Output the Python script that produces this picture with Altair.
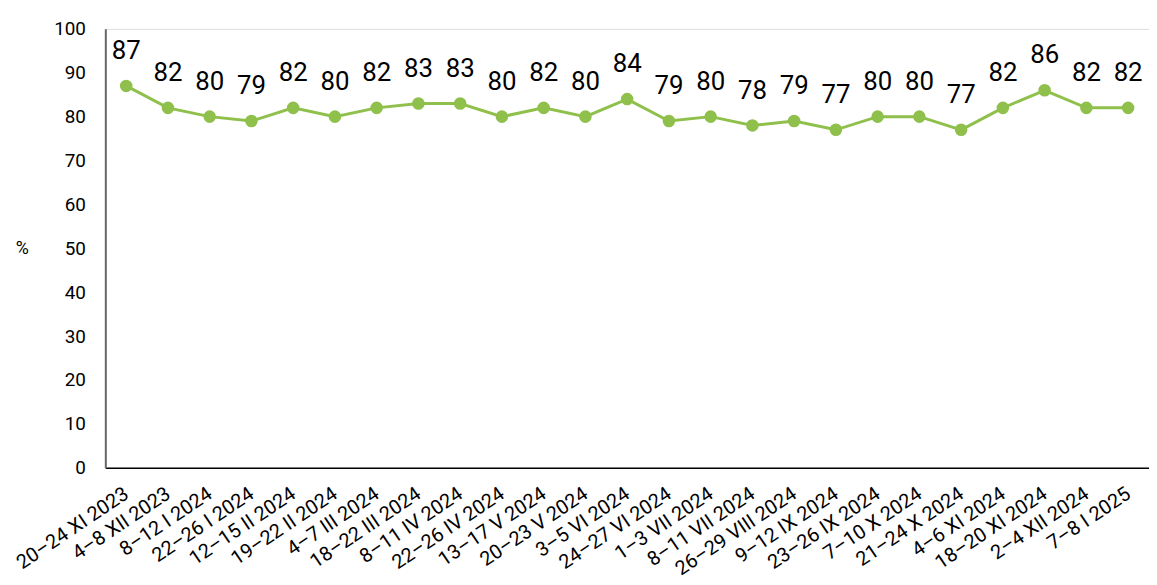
import altair as alt
import pandas as pd

labels = ["20–24 XI 2023", "4–8 XII 2023", "8–12 I 2024", "22–26 I 2024", "12–15 II 2024",
          "19–22 II 2024", "4–7 III 2024", "18–22 III 2024", "8–11 IV 2024", "22–26 IV 2024",
          "13–17 V 2024", "20–23 V 2024", "3–5 VI 2024", "24–27 VI 2024", "1–3 VII 2024",
          "8–11 VII 2024", "26–29 VIII 2024", "9–12 IX 2024", "23–26 IX 2024", "7–10 X 2024",
          "21–24 X 2024", "4–6 XI 2024", "18–20 XI 2024", "2–4 XII 2024", "7–8 I 2025"]
values = [87, 82, 80, 79, 82, 80, 82, 83, 83, 80, 82, 80, 84, 79, 80, 78, 79, 77, 80, 80, 77, 82, 86, 82, 82]

df = pd.DataFrame({"label": labels, "value": values})

GREEN = "#8fc04c"
FONT = "Roboto"

x = alt.X("label:N", sort=labels, title=None,
          scale=alt.Scale(paddingInner=0, paddingOuter=0),
          axis=alt.Axis(labelAngle=-34, labelFontSize=20, labelColor="#000000",
                        labelFont=FONT, ticks=False, labelPadding=24,
                        domainColor="#000000", domainWidth=1.5, labelAlign="right",
                        labelBaseline="middle", labelOverlap=False))
y = alt.Y("value:Q", title="%",
          scale=alt.Scale(domain=[0, 100], nice=False),
          axis=alt.Axis(values=list(range(0, 101, 10)), grid=False, ticks=False,
                        labelFontSize=19, labelFont=FONT, labelColor="#000000",
                        labelPadding=20, domainColor="#666666", domainWidth=2,
                        titleAngle=0, titleX=-84, titleY=221, titleAlign="center",
                        titleBaseline="middle", titleFont=FONT, titleFontSize=18,
                        titleFontWeight="normal", titleColor="#000000"))

base = alt.Chart(df)
line = base.mark_line(color=GREEN, strokeWidth=3).encode(x=x, y=y)
pts = base.mark_circle(color=GREEN, size=160, opacity=1).encode(x=x, y=y)
txt = base.mark_text(dy=-22, baseline="bottom", fontSize=26, font=FONT, color="#000000").encode(
    x=x, y=y, text="value:Q")

chart = (line + pts + txt).properties(
    width=1051, height=442,
    autosize=alt.AutoSizeParams(type="none"),
    padding={"left": 98, "top": 19, "right": 0, "bottom": 110},
).configure_view(stroke=None).configure(background="white")

chart.save("out.html", embed_options={"renderer": "svg", "actions": False})
